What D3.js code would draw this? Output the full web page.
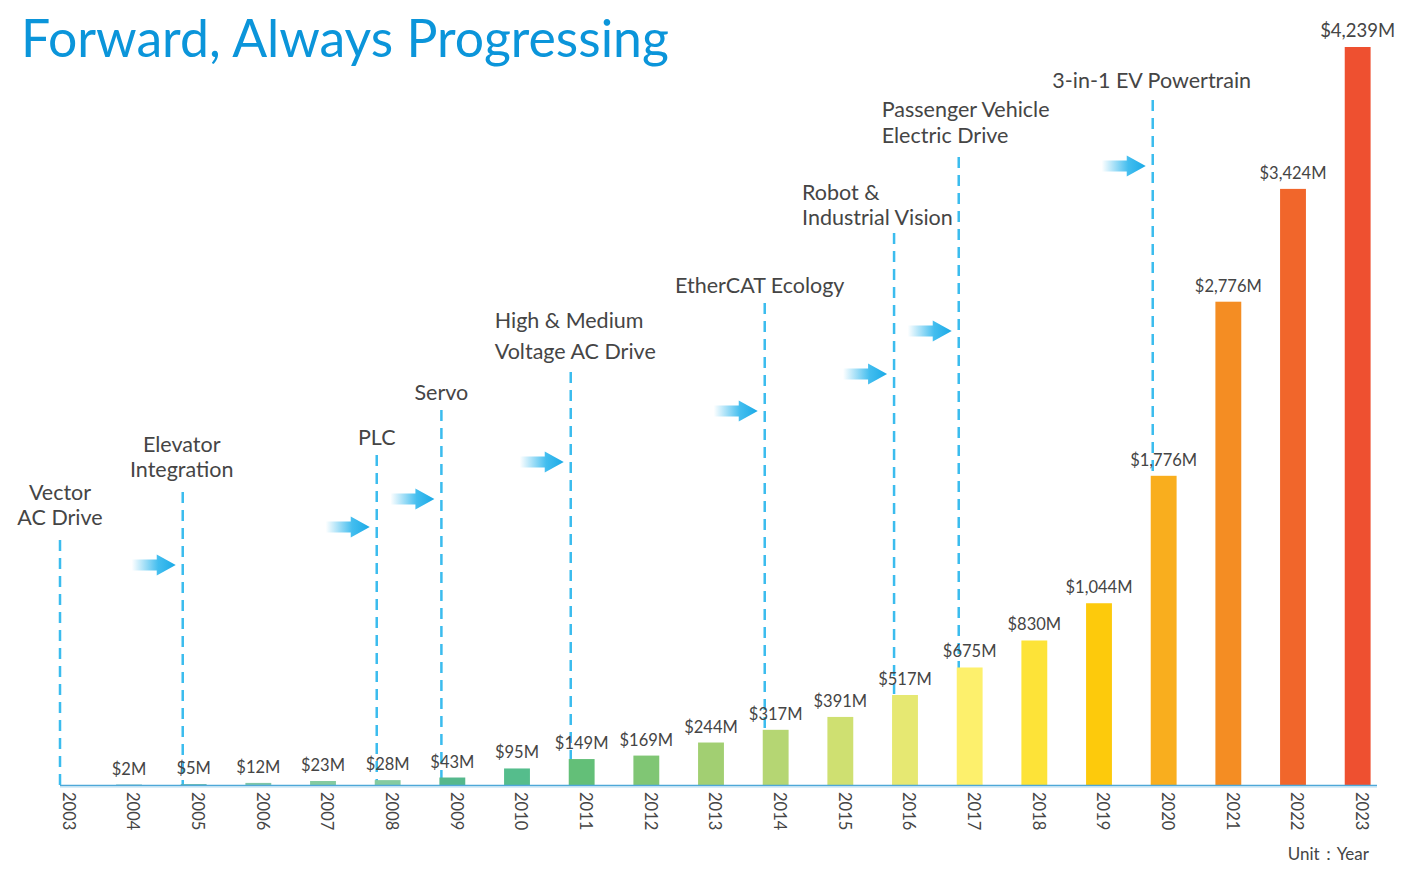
<!DOCTYPE html>
<html>
<head>
<meta charset="utf-8">
<script src="https://cdn.jsdelivr.net/npm/d3@7"></script>
<style>
  html, body { margin: 0; padding: 0; background: #ffffff; }
  svg { display: block; }
  text { font-family: "Source Sans Pro", Lato, "Noto Sans", sans-serif; }
</style>
</head>
<body>
<svg id="chart" width="1415" height="873"></svg>
<script>
// ---------- data ----------
const years = ["2003","2004","2005","2006","2007","2008","2009","2010","2011","2012","2013",
               "2014","2015","2016","2017","2018","2019","2020","2021","2022","2023"];
const revenue = [null, 2, 5, 12, 23, 28, 43, 95, 149, 169, 244, 317, 391, 517, 675, 830, 1044, 1776, 2776, 3424, 4239];
const revenueLabels = ["", "$2M","$5M","$12M","$23M","$28M","$43M","$95M","$149M","$169M","$244M","$317M",
                       "$391M","$517M","$675M","$830M","$1,044M","$1,776M","$2,776M","$3,424M","$4,239M"];
const barColors = ["#3f9f9f","#3f9f9f","#5cb2a6","#7fc6a8","#84cba0","#84cba0","#55b88c","#55bd8c","#63bf78",
                   "#80c674","#a2cf72","#b5d673","#cfe071","#e6e872","#fdf06c","#fde338","#fdca0c",
                   "#f9ae1e","#f48d23","#f1662b","#ee5030"];

const milestoneYears = ["2003","2005","2008","2009","2011","2014","2016","2017","2020"];
const milestoneLabels = [
  ["Vector","AC Drive"],
  ["Elevator","Integration"],
  ["PLC"],
  ["Servo"],
  ["High & Medium","Voltage AC Drive"],
  ["EtherCAT Ecology"],
  ["Robot &","Industrial Vision"],
  ["Passenger Vehicle","Electric Drive"],
  ["3-in-1 EV Powertrain"]
];
const titleText = "Forward, Always Progressing";
const unitText = "Unit\uFF1AYear";

// ---------- annotation layout (pixels, not data) ----------
const annLayout = [
  { top: 540, arrowY: null, anchor: "middle", dx: 0,   base: 500, lh: 25 },
  { top: 492, arrowY: 565,  anchor: "middle", dx: -1,  base: 452, lh: 25 },
  { top: 455, arrowY: 527,  anchor: "middle", dx: 0,   base: 445, lh: 25 },
  { top: 410, arrowY: 499,  anchor: "middle", dx: 0,   base: 400, lh: 25 },
  { top: 372, arrowY: 462,  anchor: "start",  dx: -76, base: 328, lh: 31 },
  { top: 303, arrowY: 411,  anchor: "middle", dx: -5,  base: 293, lh: 25 },
  { top: 233, arrowY: 374,  anchor: "start",  dx: -92, base: 200, lh: 25 },
  { top: 157, arrowY: 331,  anchor: "start",  dx: -77, base: 117, lh: 26 },
  { top: 100, arrowY: 166,  anchor: "middle", dx: -1,  base: 88,  lh: 25 }
];

// ---------- scales ----------
const svg = d3.select("#chart");
const baseY = 785;
const x = d3.scaleBand().domain(years).range([32, 1390]).paddingInner(0.6).paddingOuter(0.3);
const y = d3.scaleLinear().domain([0, 4239]).range([baseY, 47]);
const bw = x.bandwidth();
const textColor = "#454545";
const lineColor = "#3bbcee";

// gradient for arrows
const defs = svg.append("defs");
const grad = defs.append("linearGradient").attr("id", "arrowGrad")
  .attr("x1", "0%").attr("x2", "100%").attr("y1", "0%").attr("y2", "0%");
grad.append("stop").attr("offset", "0%").attr("stop-color", "#22b2ec").attr("stop-opacity", 0);
grad.append("stop").attr("offset", "60%").attr("stop-color", "#22b2ec").attr("stop-opacity", 0.85);
grad.append("stop").attr("offset", "100%").attr("stop-color", "#1aa9e6").attr("stop-opacity", 1);

// ---------- title ----------
const title = svg.append("text")
  .attr("x", 21).attr("y", 57)
  .attr("fill", "#0b95da")
  .attr("font-size", 52)
  .text(titleText);
const tl = title.node().getComputedTextLength();
title.attr("font-size", 52 * 648 / tl);

// ---------- milestone lines ----------
const lineX = yr => Math.max(x(yr) + 2, 60);
const ms = milestoneYears.map((yr, i) => ({ yr, lines: milestoneLabels[i], L: annLayout[i] }));

svg.append("g").selectAll("line").data(ms).join("line")
  .attr("x1", d => lineX(d.yr)).attr("x2", d => lineX(d.yr))
  .attr("y1", d => d.L.top).attr("y2", baseY)
  .attr("stroke", lineColor).attr("stroke-width", 2.5)
  .attr("stroke-dasharray", "11,7");

// arrows
const arrowG = svg.append("g");
ms.filter(d => d.L.arrowY !== null).forEach(d => {
  const tip = lineX(d.yr) - 7;
  const ay = d.L.arrowY;
  const len = 44, head = 19, hh = 10.5, sh = 5.5;
  const p = d3.path();
  p.moveTo(tip - len, ay - sh);
  p.lineTo(tip - head, ay - sh);
  p.lineTo(tip - head, ay - hh);
  p.lineTo(tip, ay);
  p.lineTo(tip - head, ay + hh);
  p.lineTo(tip - head, ay + sh);
  p.lineTo(tip - len, ay + sh);
  p.closePath();
  arrowG.append("path").attr("d", p.toString()).attr("fill", "url(#arrowGrad)");
});

// milestone labels
ms.forEach(d => {
  const t = svg.append("text")
    .attr("fill", textColor)
    .attr("font-size", 21.5)
    .attr("text-anchor", d.L.anchor);
  d.lines.forEach((ln, j) => {
    t.append("tspan")
      .attr("x", lineX(d.yr) + d.L.dx)
      .attr("y", d.L.base + j * d.L.lh)
      .text(ln);
  });
});

// ---------- bars ----------
const rows = years.map((yr, i) => ({ yr, v: revenue[i], lab: revenueLabels[i], c: barColors[i] }));
svg.append("g").selectAll("rect").data(rows.filter(d => d.v !== null)).join("rect")
  .attr("x", d => x(d.yr)).attr("width", bw)
  .attr("y", d => y(d.v)).attr("height", d => baseY - y(d.v))
  .attr("fill", d => d.c);

// value labels
svg.append("g").selectAll("text").data(rows.filter(d => d.v !== null)).join("text")
  .attr("x", d => x(d.yr) + bw / 2)
  .attr("y", d => y(d.v) - 10)
  .attr("text-anchor", "middle")
  .attr("font-size", d => d.v > 4000 ? 18.5 : 16.5)
  .attr("fill", textColor)
  .text(d => d.lab);

// ---------- axis ----------
svg.append("line").attr("x1", 60).attr("x2", 1377).attr("y1", baseY + 0.5).attr("y2", baseY + 0.5)
  .attr("stroke", "#4ea8d8").attr("stroke-width", 1.5);
svg.append("line").attr("x1", 60).attr("x2", 1377).attr("y1", baseY + 2).attr("y2", baseY + 2)
  .attr("stroke", "#b4dcf2").attr("stroke-width", 1.2);

const axis = d3.axisBottom(x).tickSize(0).tickPadding(0);
const ag = svg.append("g").attr("transform", `translate(0,${baseY})`).call(axis);
ag.select(".domain").remove();
ag.selectAll(".tick text")
  .attr("fill", textColor)
  .attr("font-size", 16.5)
  .attr("font-family", "\"Source Sans Pro\", Lato, \"Noto Sans\", sans-serif")
  .attr("text-anchor", "start")
  .attr("dy", "0.35em")
  .attr("y", 0)
  .attr("transform", "translate(4,7) rotate(90)");

// unit label
svg.append("text").attr("x", 1369).attr("y", 860)
  .attr("text-anchor", "end").attr("font-size", 17).attr("fill", textColor)
  .text(unitText);
</script>
</body>
</html>
